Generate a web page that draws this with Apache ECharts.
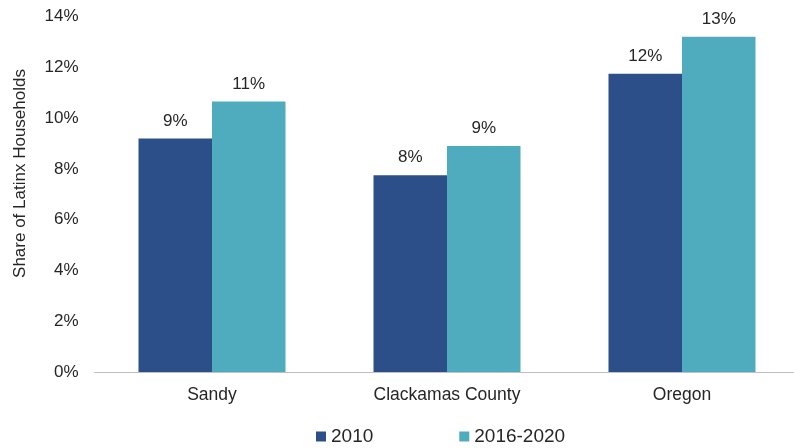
<!DOCTYPE html>
<html>
<head>
<meta charset="utf-8">
<script src="https://cdn.jsdelivr.net/npm/echarts@6/dist/echarts.min.js"></script>
<style>
html,body{margin:0;padding:0;background:#fff;overflow:hidden;}
#chart{width:800px;height:448px;}
</style>
</head>
<body>
<div id="chart"></div>
<script>
const categories = ["Sandy", "Clackamas County", "Oregon"];
const seriesNames = ["2010", "2016-2020"];
const values2010 = [9.2, 7.75, 11.75];
const values2016_2020 = [10.65, 8.9, 13.2];
const yTicks = [0, 2, 4, 6, 8, 10, 12, 14];
const yAxisTitle = "Share of Latinx Households";

const FONT = "Liberation Sans, Arial, sans-serif";
const TXT = "#262626";
const chart = echarts.init(document.getElementById('chart'), null, {renderer: 'canvas'});
const labelOpt = {
  show: true, position: 'top', distance: 9,
  color: TXT, fontFamily: FONT, fontSize: 17,
  formatter: p => Math.round(p.value) + '%'
};
chart.setOption({
  animation: false,
  backgroundColor: '#ffffff',
  grid: {left: 94.5, width: 705, top: 16.5, height: 355.5, containLabel: false},
  legend: {
    data: seriesNames,
    left: 316, top: 427, padding: 0,
    icon: 'rect', itemWidth: 10, itemHeight: 10, itemGap: 86,
    textStyle: {color: TXT, fontFamily: FONT, fontSize: 19, lineHeight: 19, padding: [0,0,0,0]}
  },
  xAxis: {
    type: 'category', data: categories,
    axisLine: {lineStyle: {color: '#BFBFBF', width: 1}},
    axisTick: {show: false},
    axisLabel: {color: TXT, fontFamily: FONT, fontSize: 17.5, margin: 14}
  },
  yAxis: {
    type: 'value', min: yTicks[0], max: yTicks[yTicks.length-1], interval: 2,
    axisLine: {show: false}, axisTick: {show: false}, splitLine: {show: false},
    axisLabel: {color: TXT, fontFamily: FONT, fontSize: 17, margin: 16, formatter: v => v + '%'}
  },
  graphic: [{
    type: 'text', x: 20, y: 173.5, rotation: Math.PI / 2,
    style: {text: yAxisTitle, fill: TXT, font: '17px ' + FONT, textAlign: 'center', textVerticalAlign: 'middle'}
  }],
  series: [
    {name: seriesNames[0], type: 'bar', data: values2010, barWidth: 73.5, barGap: '0%',
     itemStyle: {color: '#2D4F89'}, label: labelOpt},
    {name: seriesNames[1], type: 'bar', data: values2016_2020, barWidth: 73.5, barGap: '0%',
     itemStyle: {color: '#4FABBE'}, label: labelOpt}
  ]
});
</script>
</body>
</html>
